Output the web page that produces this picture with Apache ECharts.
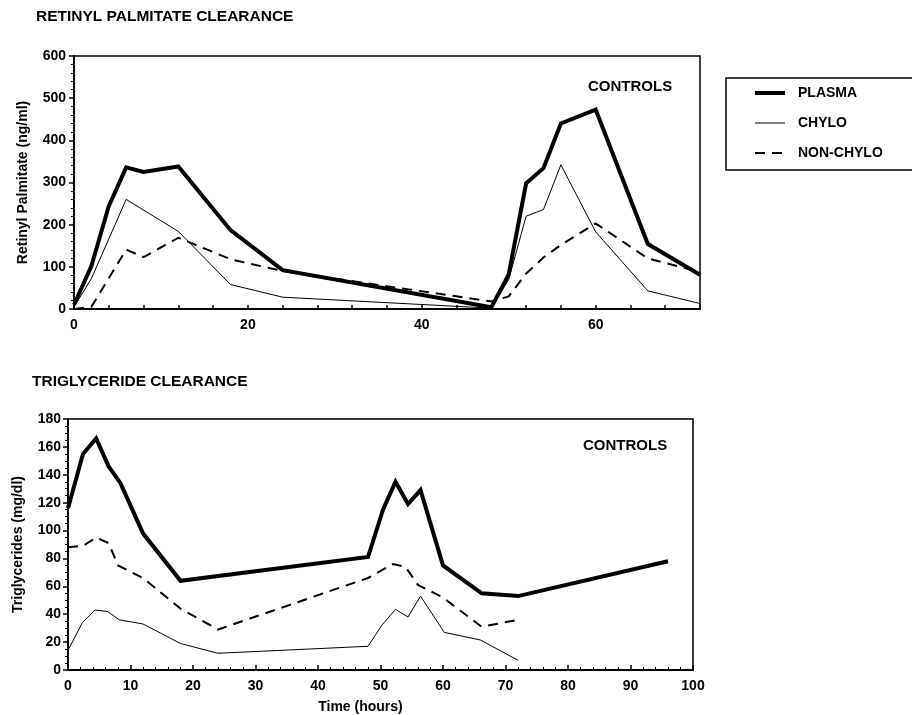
<!DOCTYPE html>
<html>
<head>
<meta charset="utf-8">
<script src="https://cdn.jsdelivr.net/npm/echarts@6/dist/echarts.min.js"></script>
<style>
html,body{margin:0;padding:0;background:#fff;}
#chart{width:912px;height:715px;}
</style>
</head>
<body>
<div id="chart"></div>
<script>
// ---- Retinyl palmitate clearance (top panel) ----
var rpPlasmaHours = [0, 2, 4, 6, 8, 12, 18, 24, 48, 50, 52, 54, 56, 60, 66, 72];
var rpPlasmaValues = [10, 102, 244, 336, 325, 338, 187, 92, 4, 82, 298, 334, 440, 473, 154, 81];
var rpChyloHours = [0, 2, 6, 12, 18, 24, 48, 50, 52, 54, 56, 60, 66, 72];
var rpChyloValues = [5, 72, 260, 184, 58, 28, 2, 70, 220, 236, 342, 183, 43, 13];
var rpNonChyloHours = [0, 2, 6, 8, 12, 18, 24, 48, 50, 52, 54, 56, 60, 66, 72];
var rpNonChyloValues = [0, 5, 141, 123, 169, 118, 90, 18, 30, 84, 122, 152, 203, 120, 88];

// ---- Triglyceride clearance (bottom panel) ----
var tgPlasmaHours = [0, 2.4, 4.5, 6.5, 8.4, 12, 18, 48, 50.4, 52.4, 54.4, 56.4, 60, 66.2, 72, 96];
var tgPlasmaValues = [116, 155, 166, 146, 134, 98, 64, 81, 115, 135, 119, 129, 75, 55, 53, 78];
var tgChyloHours = [0, 2.3, 4.3, 6.3, 8.2, 12, 18, 24, 48, 50.2, 52.4, 54.4, 56.4, 60.2, 66, 72];
var tgChyloValues = [14, 34, 43, 42, 36, 33, 19, 12, 17, 32, 43.5, 38, 53, 27, 21.5, 7];
var tgNonChyloHours = [0, 2.4, 4.5, 6.5, 8, 12, 18, 24, 48, 52, 54, 56, 60, 66.2, 72];
var tgNonChyloValues = [88, 89, 95, 91, 75, 66, 44, 29, 66, 76, 74, 61, 52, 31, 36];

var seriesNames = ['PLASMA', 'CHYLO', 'NON-CHYLO'];
var rpXTickLabels = [0, 20, 40, 60];
var panelTitles = ['RETINYL PALMITATE CLEARANCE', 'TRIGLYCERIDE CLEARANCE'];
var groupLabel = 'CONTROLS';
var yNames = ['Retinyl Palmitate (ng/ml)', 'Triglycerides (mg/dl)'];
var xName = 'Time (hours)';

function pairs(xs, ys) {
  return xs.map(function (x, i) { return [x, ys[i]]; });
}

var FONT = '"Liberation Sans", Arial, Helvetica, sans-serif';
var BLACK = '#000';

var styles = [
  { width: 4, type: 'solid' },
  { width: 1, type: 'solid' },
  { width: 2, type: [10, 7] }
];

function mkSeries(name, idx, data, styleIdx) {
  return {
    name: name,
    type: 'line',
    xAxisIndex: idx,
    yAxisIndex: idx,
    data: data,
    symbol: 'none',
    showSymbol: false,
    animation: false,
    lineStyle: { color: BLACK, width: styles[styleIdx].width, type: styles[styleIdx].type, join: 'miter', cap: 'butt' },
    itemStyle: { color: BLACK },
    z: 3 - styleIdx
  };
}

var legendData = seriesNames.map(function (n, i) {
  return {
    name: n,
    lineStyle: { color: BLACK, width: styles[i].width, type: styles[i].type },
    itemStyle: { color: 'transparent', borderWidth: 0, opacity: 0 }
  };
});

var axisLineStyle = { show: true, onZero: false, lineStyle: { color: BLACK, width: 2 } };

var option = {
  backgroundColor: '#fff',
  animation: false,
  textStyle: { fontFamily: FONT, color: BLACK },
  title: [
    { text: panelTitles[0], left: 36, top: 9, padding: 0, textStyle: { fontSize: 15.5, fontWeight: 'bold', color: BLACK, fontFamily: FONT } },
    { text: panelTitles[1], left: 32, top: 374, padding: 0, textStyle: { fontSize: 15.5, fontWeight: 'bold', color: BLACK, fontFamily: FONT } },
    { text: groupLabel, left: 588, top: 79, padding: 0, textStyle: { fontSize: 15, fontWeight: 'bold', color: BLACK, fontFamily: FONT } },
    { text: groupLabel, left: 583, top: 438, padding: 0, textStyle: { fontSize: 15, fontWeight: 'bold', color: BLACK, fontFamily: FONT } }
  ],
  legend: {
    data: legendData,
    orient: 'vertical',
    left: 726,
    top: 78,
    padding: [8, 30, 10, 27],
    itemGap: 16,
    itemWidth: 30,
    itemHeight: 14,
    borderColor: BLACK,
    borderWidth: 1.5,
    borderRadius: 0,
    selectedMode: false,
    itemStyle: { color: 'transparent', borderWidth: 0, opacity: 0 },
    textStyle: { fontSize: 14, fontWeight: 'bold', color: BLACK, fontFamily: FONT, padding: [0, 0, 0, 8] }
  },
  grid: [
    { left: 74, right: 212, top: 56, bottom: 406, show: true, borderColor: BLACK, borderWidth: 1.5, backgroundColor: 'transparent' },
    { left: 68, right: 219, top: 419, bottom: 45, show: true, borderColor: BLACK, borderWidth: 1.5, backgroundColor: 'transparent' }
  ],
  xAxis: [
    {
      gridIndex: 0, type: 'value', min: 0, max: 72, interval: 4,
      axisLine: axisLineStyle,
      axisTick: { show: true, inside: true, length: 4, lineStyle: { color: BLACK, width: 1.5 } },
      axisLabel: {
        margin: 9, fontSize: 14, fontWeight: 'bold', color: BLACK, fontFamily: FONT,
        formatter: function (v) { return rpXTickLabels.indexOf(v) >= 0 ? String(v) : ''; }
      },
      splitLine: { show: false }
    },
    {
      gridIndex: 1, type: 'value', min: 0, max: 100, interval: 10,
      axisLine: axisLineStyle,
      axisTick: { show: true, inside: true, length: 5, lineStyle: { color: BLACK, width: 1.5 } },
      minorTick: { show: true, splitNumber: 5, length: 3, lineStyle: { color: BLACK, width: 1 } },
      axisLabel: { margin: 9, fontSize: 14, fontWeight: 'bold', color: BLACK, fontFamily: FONT },
      splitLine: { show: false },
      name: xName, nameLocation: 'middle', nameGap: 30,
      nameTextStyle: { fontSize: 14, fontWeight: 'bold', color: BLACK, fontFamily: FONT, padding: [0, 40, 0, 0] }
    }
  ],
  yAxis: [
    {
      gridIndex: 0, type: 'value', min: 0, max: 600, interval: 100,
      axisLine: axisLineStyle,
      axisTick: { show: true, inside: false, length: 5, lineStyle: { color: BLACK, width: 1.5 } },
      minorTick: { show: true, splitNumber: 5, length: 3, lineStyle: { color: BLACK, width: 1 } },
      axisLabel: { margin: 8, fontSize: 14, fontWeight: 'bold', color: BLACK, fontFamily: FONT },
      splitLine: { show: false },
      name: yNames[0], nameLocation: 'middle', nameGap: 44, nameRotate: 90,
      nameTextStyle: { fontSize: 14, fontWeight: 'bold', color: BLACK, fontFamily: FONT }
    },
    {
      gridIndex: 1, type: 'value', min: 0, max: 180, interval: 20,
      axisLine: axisLineStyle,
      axisTick: { show: true, inside: false, length: 5, lineStyle: { color: BLACK, width: 1.5 } },
      minorTick: { show: true, splitNumber: 4, length: 3, lineStyle: { color: BLACK, width: 1 } },
      axisLabel: { margin: 7, fontSize: 14, fontWeight: 'bold', color: BLACK, fontFamily: FONT },
      splitLine: { show: false },
      name: yNames[1], nameLocation: 'middle', nameGap: 43, nameRotate: 90,
      nameTextStyle: { fontSize: 14, fontWeight: 'bold', color: BLACK, fontFamily: FONT }
    }
  ],
  series: [
    mkSeries(seriesNames[0], 0, pairs(rpPlasmaHours, rpPlasmaValues), 0),
    mkSeries(seriesNames[1], 0, pairs(rpChyloHours, rpChyloValues), 1),
    mkSeries(seriesNames[2], 0, pairs(rpNonChyloHours, rpNonChyloValues), 2),
    mkSeries(seriesNames[0], 1, pairs(tgPlasmaHours, tgPlasmaValues), 0),
    mkSeries(seriesNames[1], 1, pairs(tgChyloHours, tgChyloValues), 1),
    mkSeries(seriesNames[2], 1, pairs(tgNonChyloHours, tgNonChyloValues), 2)
  ]
};

var chart = echarts.init(document.getElementById('chart'), null, { renderer: 'canvas' });
chart.setOption(option);
</script>
</body>
</html>
